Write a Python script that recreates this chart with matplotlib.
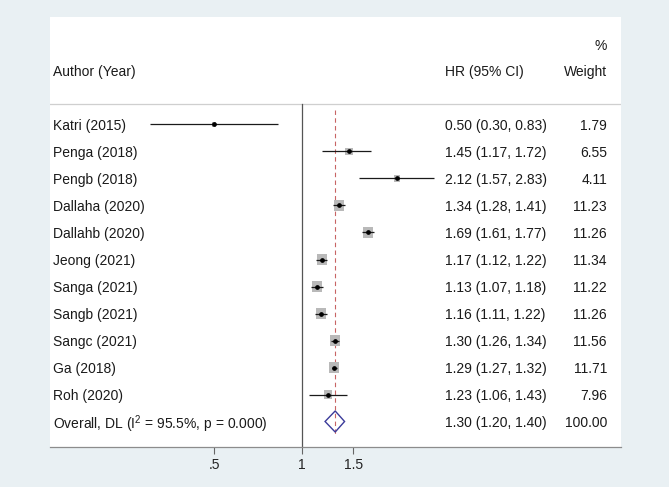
import numpy as np
import matplotlib
matplotlib.use("Agg")
import matplotlib.pyplot as plt
from matplotlib.transforms import blended_transform_factory

plt.rcParams['font.family'] = ['Liberation Sans', 'DejaVu Sans']
plt.rcParams['mathtext.fontset'] = 'custom'
plt.rcParams['mathtext.rm'] = 'Liberation Sans'
plt.rcParams['mathtext.it'] = 'Liberation Sans'

# ---- data ----
studies = ["Katri (2015)", "Penga (2018)", "Pengb (2018)", "Dallaha (2020)",
           "Dallahb (2020)", "Jeong (2021)", "Sanga (2021)", "Sangb (2021)",
           "Sangc (2021)", "Ga (2018)", "Roh (2020)"]
hr = [0.50, 1.45, 2.12, 1.34, 1.69, 1.17, 1.13, 1.16, 1.30, 1.29, 1.23]
lo = [0.30, 1.17, 1.57, 1.28, 1.61, 1.12, 1.07, 1.11, 1.26, 1.27, 1.06]
hi = [0.83, 1.72, 2.83, 1.41, 1.77, 1.22, 1.18, 1.22, 1.34, 1.32, 1.43]
weight = [1.79, 6.55, 4.11, 11.23, 11.26, 11.34, 11.22, 11.26, 11.56, 11.71, 7.96]
overall = (1.30, 1.20, 1.40)
overall_label = r"Overall, DL (I$^{2}$ = 95.5%, p = 0.000)"
overall_weight = "100.00"
xticks = [0.5, 1, 1.5]
xticklabels = [".5", "1", "1.5"]

W, H = 669, 487
bg = '#e9f0f3'
fig = plt.figure(figsize=(W / 100, H / 100), dpi=100, facecolor=bg)

# white plot panel: x 50..621, y 17..447 (pixels)
ax = fig.add_axes([50 / W, (H - 447) / H, 571 / W, 430 / H])
ax.set_facecolor('white')

# log x-scale: 1 at pixel 302, 126.5 px per ln unit
ppl = 126.5
x_left = np.exp((50 - 302) / ppl)
x_right = np.exp((621 - 302) / ppl)
ax.set_xscale('log')
ax.set_xlim(x_left, x_right)

# rows: pixel = 124.5 + 27*i
def row_of(px):
    return (px - 124.5) / 27.0
ax.set_ylim(row_of(447), row_of(17))

n = len(studies)
rows = np.arange(n)
orow = n

# spines
for s in ['top', 'left', 'right']:
    ax.spines[s].set_visible(False)
ax.spines['bottom'].set_color('#8c8c8c')
ax.spines['bottom'].set_linewidth(0.9)
ax.set_yticks([])
ax.set_xticks(xticks)
ax.set_xticklabels(xticklabels, fontsize=10, color='#222222')
ax.xaxis.set_minor_locator(matplotlib.ticker.NullLocator())
ax.tick_params(axis='x', length=5, width=0.8, color='#666666', pad=3)

# header separator line
ax.axhline(row_of(104), color='#cfcfcf', lw=0.9)
# null line
ax.plot([1, 1], [row_of(104), row_of(447)], color='#555555', lw=0.9, zorder=2)
# overall dashed line
ax.plot([overall[0], overall[0]], [row_of(110), orow + 0.5],
        color='#c86464', lw=0.8, ls=(0, (4, 3)), zorder=2)

# boxes (area proportional to weight)
side_px = 3.0 * np.sqrt(np.array(weight))
side_pt = side_px * 72 / 100
ax.scatter(hr, rows, s=side_pt ** 2, marker='s', color='#b9b9b9',
           edgecolors='none', zorder=3)
# CIs
ax.hlines(rows, lo, hi, color='#1a1a1a', lw=0.9, zorder=4)
ax.plot(hr, rows, 'o', color='black', markersize=2.4, zorder=5)

# overall diamond
dh = 0.39
ax.fill([overall[1], overall[0], overall[2], overall[0], overall[1]],
        [orow, orow - dh, orow, orow + dh, orow],
        facecolor='none', edgecolor='#3b3b9a', lw=1.0, zorder=5)

# text columns
tr = blended_transform_factory(fig.transFigure, ax.transData)
fs = 10
tc = '#1a1a1a'
va = 'center_baseline'
ax.text(53 / W, row_of(71), "Author (Year)", transform=tr, fontsize=fs,
        va=va, ha='left', color=tc)
ax.text(445 / W, row_of(71), "HR (95% CI)", transform=tr, fontsize=fs,
        va=va, ha='left', color=tc)
ax.text(607 / W, row_of(71), "Weight", transform=tr, fontsize=fs,
        va=va, ha='right', color=tc)
ax.text(607 / W, row_of(45), "%", transform=tr, fontsize=fs,
        va=va, ha='right', color=tc)

for i in range(n):
    ax.text(53 / W, i, studies[i], transform=tr, fontsize=fs, va=va,
            ha='left', color=tc)
    ax.text(445 / W, i, f"{hr[i]:.2f} ({lo[i]:.2f}, {hi[i]:.2f})",
            transform=tr, fontsize=fs, va=va, ha='left', color=tc)
    ax.text(607 / W, i, f"{weight[i]:.2f}", transform=tr, fontsize=fs,
            va=va, ha='right', color=tc)

ax.text(53 / W, orow, overall_label, transform=tr, fontsize=fs, va=va,
        ha='left', color=tc)
ax.text(445 / W, orow, f"{overall[0]:.2f} ({overall[1]:.2f}, {overall[2]:.2f})",
        transform=tr, fontsize=fs, va=va, ha='left', color=tc)
ax.text(607 / W, orow, overall_weight, transform=tr, fontsize=fs,
        va=va, ha='right', color=tc)

fig.savefig("out.png", dpi=100, facecolor=bg)
